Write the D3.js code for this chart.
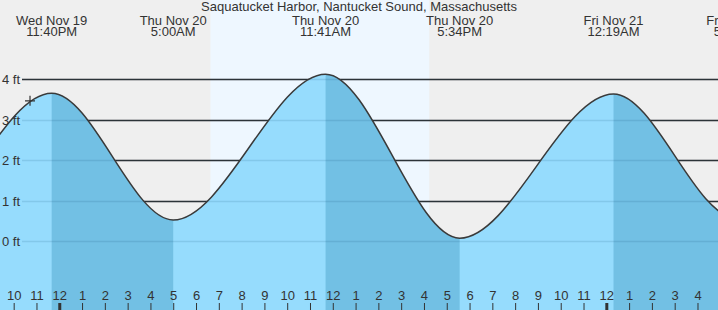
<!DOCTYPE html>
<html>
<head>
<meta charset="utf-8">
<script src="https://cdn.jsdelivr.net/npm/d3@7"></script>
<style>
  body { margin: 0; background: #efefef; }
  svg { display: block; font-family: "Liberation Sans", Arial, sans-serif; }
</style>
</head>
<body>
<div id="chart"></div>
<script>
var title = "Saquatucket Harbor, Nantucket Sound, Massachusetts";

// tide extremes (first, last two are off screen, estimated)
var tideTimes = ["2025-11-19 11:05", "2025-11-19 17:12", "2025-11-19 23:40", "2025-11-20 05:00",
                 "2025-11-20 11:41", "2025-11-20 17:34", "2025-11-21 00:19", "2025-11-21 05:42",
                 "2025-11-21 12:00"];
var tideHeights = [3.9, 0.1, 3.65, 0.52, 4.12, 0.07, 3.63, 0.57, 3.9];

var sunTimes = ["2025-11-20 06:38", "2025-11-20 16:14"];
var nowTime = "2025-11-19 22:43";
var nowHeight = 3.46;

var yTicks = [0, 1, 2, 3, 4];
var viewStart = "2025-11-19 21:24";
var viewEnd = "2025-11-21 04:54";

var w = 718;
var h = 310;

var parse = d3.timeParse("%Y-%m-%d %H:%M");
var data = tideTimes.map(function(t, i){
  return {time: parse(t), height: tideHeights[i]};
});

var xScale = d3.scaleTime()
               .domain([parse(viewStart), parse(viewEnd)])
               .range([0, w]);
var yScale = d3.scaleLinear()
               .domain([0, 4])
               .range([241, 79]);

var svg = d3.select("#chart")
            .append("svg")
            .attr("width", w)
            .attr("height", h);

svg.append("rect")
   .attr("width", w)
   .attr("height", h)
   .attr("fill", "#efefef");

// daylight band
svg.append("rect")
   .attr("x", xScale(parse(sunTimes[0])))
   .attr("y", 0)
   .attr("width", xScale(parse(sunTimes[1])) - xScale(parse(sunTimes[0])))
   .attr("height", h)
   .attr("fill", "#eef7ff");

// gridlines
svg.append("g")
   .selectAll("line")
   .data(yTicks)
   .enter()
   .append("line")
   .attr("x1", 22)
   .attr("x2", w)
   .attr("y1", function(d){ return Math.round(yScale(d)) + 0.5; })
   .attr("y2", function(d){ return Math.round(yScale(d)) + 0.5; })
   .attr("stroke", "#333")
   .attr("stroke-width", 1.3);

var area = d3.area()
             .x(function(d){ return xScale(d.time); })
             .y0(h)
             .y1(function(d){ return yScale(d.height); })
             .curve(d3.curveMonotoneX);
var line = d3.line()
             .x(function(d){ return xScale(d.time); })
             .y(function(d){ return yScale(d.height); })
             .curve(d3.curveMonotoneX);

svg.append("path")
   .datum(data)
   .attr("d", area)
   .attr("fill", "#96dcfd");

// ebbing segments: from each high to the following low
var ebbs = [];
data.forEach(function(d, i){
  if (i < data.length - 1 && d.height > data[i+1].height) {
    ebbs.push([d.time, data[i+1].time]);
  }
});
var clip = svg.append("clipPath").attr("id", "ebb");
clip.selectAll("rect")
    .data(ebbs)
    .enter()
    .append("rect")
    .attr("x", function(d){ return xScale(d[0]); })
    .attr("y", 0)
    .attr("width", function(d){ return xScale(d[1]) - xScale(d[0]); })
    .attr("height", h);

svg.append("path")
   .datum(data)
   .attr("d", area)
   .attr("fill", "#72c0e4")
   .attr("clip-path", "url(#ebb)");

// faint gridlines over the water
svg.append("g")
   .selectAll("line")
   .data(yTicks)
   .enter()
   .append("line")
   .attr("x1", 22)
   .attr("x2", w)
   .attr("y1", function(d){ return Math.round(yScale(d)) + 0.5; })
   .attr("y2", function(d){ return Math.round(yScale(d)) + 0.5; })
   .attr("stroke", "rgba(0,60,100,0.12)")
   .attr("stroke-width", 1.3);

svg.append("path")
   .datum(data)
   .attr("d", line)
   .attr("fill", "none")
   .attr("stroke", "#3a3a3a")
   .attr("stroke-width", 1.5);

// y labels
svg.append("g")
   .selectAll("text")
   .data(yTicks)
   .enter()
   .append("text")
   .attr("x", 2)
   .attr("y", function(d){ return yScale(d) + 5; })
   .attr("font-size", 13)
   .attr("fill", "#333")
   .text(function(d){ return d + " ft"; });

// now marker
var nx = xScale(parse(nowTime)), ny = yScale(nowHeight);
svg.append("path")
   .attr("d", "M" + (nx - 5) + "," + ny + "H" + (nx + 5) + "M" + nx + "," + (ny - 5) + "V" + (ny + 5))
   .attr("stroke", "#333")
   .attr("stroke-width", 1.2);

// hour axis
var xAxis = d3.axisTop(xScale)
              .ticks(d3.timeHour.every(1))
              .tickFormat(d3.timeFormat("%-I"))
              .tickSize(7)
              .tickPadding(3);
var ax = svg.append("g")
            .attr("transform", "translate(0," + h + ")")
            .call(xAxis);
ax.select(".domain").remove();
ax.selectAll("text")
  .attr("font-size", 13)
  .attr("font-family", "Liberation Sans, Arial, sans-serif")
  .attr("fill", "#333");
ax.selectAll("line")
  .attr("stroke", "#333")
  .attr("stroke-width", function(d){ return d.getHours() === 0 ? 3 : 1; });

// title
svg.append("text")
   .attr("x", w / 2)
   .attr("y", 11)
   .attr("text-anchor", "middle")
   .attr("font-size", 13)
   .attr("fill", "#333")
   .text(title);

// event labels
var shown = data.filter(function(d){
  var x = xScale(d.time);
  return x > -40 && x < w + 40;
});
var labels = svg.append("g")
                .selectAll("text")
                .data(shown)
                .enter()
                .append("text")
                .attr("text-anchor", "middle")
                .attr("font-size", 13)
                .attr("fill", "#333");
labels.append("tspan")
      .attr("x", function(d){ return xScale(d.time); })
      .attr("y", 25)
      .text(function(d){ return d3.timeFormat("%a %b %-d")(d.time); });
labels.append("tspan")
      .attr("x", function(d){ return xScale(d.time); })
      .attr("y", 36)
      .text(function(d){ return d3.timeFormat("%-I:%M%p")(d.time); });
</script>
</body>
</html>
